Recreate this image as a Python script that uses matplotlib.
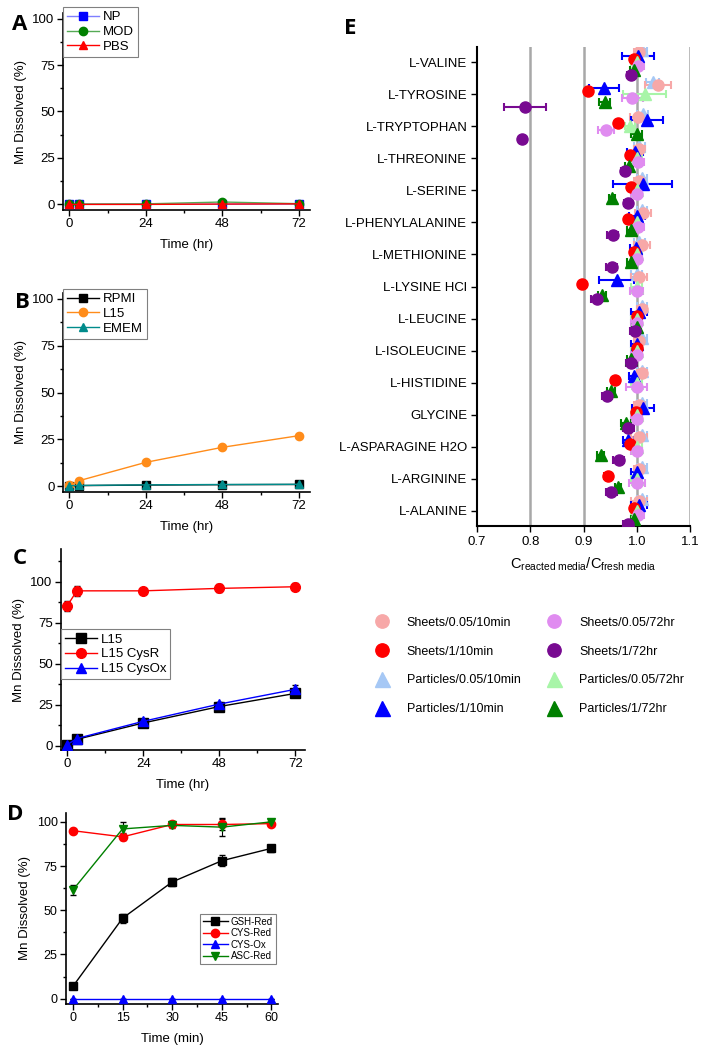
import matplotlib.pyplot as plt
import matplotlib.lines as mlines
from matplotlib.ticker import MultipleLocator
import numpy as np

plt.rcParams['font.family'] = ['Liberation Sans', 'DejaVu Sans']
plt.rcParams['mathtext.fontset'] = 'custom'
plt.rcParams['mathtext.rm'] = 'Liberation Sans'
plt.rcParams['mathtext.it'] = 'Liberation Sans:italic'

## ---- data : panel A ----
time_hr = [0, 3, 24, 48, 72]
a_np = [0.1, 0.1, 0.2, 0.1, 0.2]
a_mod = [0.2, 0.2, 0.3, 1.3, 0.4]
a_pbs = [0.0, 0.0, 0.0, 0.2, 0.3]
a_err = [0.3, 0.3, 0.3, 0.5, 0.3]

## ---- data : panel B ----
b_rpmi = [0.2, 0.4, 0.7, 0.9, 1.0]
b_l15 = [0.5, 3.0, 12.8, 20.8, 27.0]
b_emem = [0.3, 0.5, 0.8, 1.0, 1.1]
b_err = [0.3, 0.5, 0.8, 0.8, 1.0]

## ---- data : panel C ----
c_l15 = [0.5, 4.0, 14.0, 24.0, 32.0]
c_cysr = [85.5, 94.5, 94.5, 96.0, 97.0]
c_cysox = [0.8, 4.5, 15.0, 25.5, 34.5]
c_err_l15 = [1.0, 1.5, 1.5, 2.0, 2.0]
c_err_cysr = [3.0, 3.0, 2.0, 2.5, 2.0]
c_err_cysox = [1.0, 1.5, 1.5, 1.5, 2.5]

## ---- data : panel D ----
time_min = [0, 15, 30, 45, 60]
d_gsh = [7.0, 45.5, 66.0, 78.0, 85.0]
d_cys_red = [95.0, 91.5, 98.5, 98.5, 99.0]
d_cys_ox = [0.0, 0.0, 0.0, 0.0, 0.0]
d_asc = [61.5, 96.0, 98.0, 97.0, 100.0]
d_err_gsh = [1.0, 2.5, 2.5, 3.0, 2.0]
d_err_cys_red = [1.0, 2.0, 2.0, 3.0, 1.0]
d_err_asc = [3.0, 4.0, 1.0, 5.0, 1.0]

## ---- data : panel E (top -> bottom) ----
amino_acids = ['L-VALINE', 'L-TYROSINE', 'L-TRYPTOPHAN', 'L-THREONINE', 'L-SERINE',
               'L-PHENYLALANINE', 'L-METHIONINE', 'L-LYSINE HCl', 'L-LEUCINE',
               'L-ISOLEUCINE', 'L-HISTIDINE', 'GLYCINE', 'L-ASPARAGINE H2O',
               'L-ARGININE', 'L-ALANINE']
sheets_005_10 = [1.005, 1.040, 1.002, 1.005, 1.005, 1.012, 1.010, 1.005, 1.010, 1.005, 1.010, 1.005, 1.005, 1.005, 1.005]
sheets_005_10_err = [0.010, 0.025, 0.015, 0.010, 0.010, 0.015, 0.015, 0.015, 0.010, 0.010, 0.010, 0.010, 0.015, 0.010, 0.015]
sheets_1_10 = [0.995, 0.908, 0.965, 0.987, 0.990, 0.984, 0.995, 0.897, 1.000, 1.000, 0.959, 0.998, 0.987, 0.946, 0.995]
sheets_1_10_err = [0.005, 0.004, 0.004, 0.005, 0.005, 0.005, 0.005, 0.003, 0.005, 0.005, 0.005, 0.005, 0.005, 0.008, 0.005]
particles_005_10 = [1.010, 1.030, 1.011, 1.005, 1.010, 1.010, 1.005, 1.000, 1.010, 1.010, 1.010, 1.010, 1.010, 1.010, 1.010]
particles_005_10_err = [0.010, 0.012, 0.010, 0.010, 0.010, 0.010, 0.010, 0.010, 0.010, 0.010, 0.010, 0.010, 0.010, 0.010, 0.010]
particles_1_10 = [1.002, 0.938, 1.019, 0.997, 1.011, 1.000, 0.998, 0.962, 1.005, 1.000, 0.995, 1.012, 0.984, 1.000, 1.005]
particles_1_10_err = [0.030, 0.028, 0.030, 0.015, 0.055, 0.015, 0.010, 0.033, 0.015, 0.010, 0.010, 0.020, 0.010, 0.010, 0.015]
sheets_005_72 = [1.003, 0.992, 0.942, 1.003, 1.000, 1.003, 1.000, 1.000, 1.000, 1.000, 1.000, 1.000, 1.000, 1.000, 1.003]
sheets_005_72_err = [0.010, 0.020, 0.015, 0.010, 0.010, 0.010, 0.010, 0.012, 0.010, 0.010, 0.020, 0.010, 0.010, 0.015, 0.010]
sheets_1_72 = [0.990, 0.790, 0.785, 0.978, 0.984, 0.955, 0.953, 0.925, 0.997, 0.990, 0.944, 0.984, 0.966, 0.952, 0.984]
sheets_1_72_err = [0.008, 0.040, 0.007, 0.008, 0.008, 0.010, 0.010, 0.010, 0.010, 0.010, 0.010, 0.010, 0.010, 0.010, 0.010]
particles_005_72 = [1.000, 1.015, 0.987, 1.000, 1.000, 1.000, 1.000, 1.000, 1.000, 1.000, 1.000, 1.000, 1.000, 1.000, 1.000]
particles_005_72_err = [0.010, 0.040, 0.010, 0.010, 0.010, 0.010, 0.010, 0.010, 0.010, 0.010, 0.010, 0.010, 0.010, 0.010, 0.010]
particles_1_72 = [0.995, 0.940, 1.000, 0.985, 0.953, 0.990, 0.990, 0.935, 1.000, 0.990, 0.952, 0.980, 0.932, 0.965, 0.995]
particles_1_72_err = [0.008, 0.010, 0.010, 0.008, 0.006, 0.008, 0.008, 0.008, 0.008, 0.008, 0.008, 0.010, 0.006, 0.006, 0.006]

W, H = 703, 1050
fig = plt.figure(figsize=(W / 100, H / 100), dpi=100)


def add_ax(x0, y0, x1, y1):
    # pixel box -> figure fraction
    return fig.add_axes([x0 / W, 1 - y1 / H, (x1 - x0) / W, (y1 - y0) / H])


def style_mn(ax, xticks, xlim, ylim, xminor, xlabel, ts=9.5):
    for s in ['top', 'right']:
        ax.spines[s].set_visible(False)
    for s in ['left', 'bottom']:
        ax.spines[s].set_linewidth(1.2)
    ax.set_xlim(xlim)
    ax.set_ylim(ylim)
    ax.set_xticks(xticks)
    ax.set_yticks([0, 25, 50, 75, 100])
    ax.xaxis.set_minor_locator(MultipleLocator(xminor))
    ax.yaxis.set_minor_locator(MultipleLocator(12.5))
    ax.tick_params(direction='out', length=4, width=1, labelsize=ts, pad=2)
    ax.tick_params(which='minor', length=2, width=1)
    ax.set_xlabel(xlabel, fontsize=9.5, labelpad=6)
    ax.set_ylabel('Mn Dissolved (%)', fontsize=9.5, labelpad=4)


def serie(ax, x, y, err, marker, mcol, lcol, label, ms=6):
    ax.errorbar(x, y, yerr=err, fmt='none', ecolor='black', elinewidth=0.8, capsize=2, zorder=2)
    ax.plot(x, y, marker=marker, color=lcol, markerfacecolor=mcol, markeredgecolor=mcol,
            ms=ms, lw=1, label=label, zorder=3)


def leg(ax, **kw):
    l = ax.legend(fontsize=9.5, handlelength=2.4, handletextpad=0.3, labelspacing=0.2,
                  borderpad=0.3, fancybox=False, edgecolor='#808080', framealpha=1, **kw)
    l.get_frame().set_linewidth(0.8)
    return l


## ---- A ----
axA = add_ax(63, 13, 310, 210)
serie(axA, time_hr, a_np, a_err, 's', '#0000ff', '#7f7fff', 'NP')
serie(axA, time_hr, a_mod, a_err, 'o', '#008000', '#55aa55', 'MOD')
serie(axA, time_hr, a_pbs, a_err, '^', '#ff0000', '#ff0000', 'PBS')
style_mn(axA, [0, 24, 48, 72], (-2, 75.5), (-3, 103), 12, 'Time (hr)')
leg(axA, loc='upper left', bbox_to_anchor=(0, 1.03), borderaxespad=0)

## ---- B ----
axB = add_ax(63, 293, 310, 492)
serie(axB, time_hr, b_rpmi, b_err, 's', '#000000', '#000000', 'RPMI')
serie(axB, time_hr, b_l15, b_err, 'o', '#ff8c1a', '#ff8c1a', 'L15')
serie(axB, time_hr, b_emem, b_err, '^', '#008b8b', '#008b8b', 'EMEM')
style_mn(axB, [0, 24, 48, 72], (-2, 75.5), (-3, 103), 12, 'Time (hr)')
leg(axB, loc='upper left', bbox_to_anchor=(0, 1.02), borderaxespad=0)

## ---- C ----
axC = add_ax(61, 549, 305, 750)
serie(axC, time_hr, c_l15, c_err_l15, 's', '#000000', '#000000', 'L15', ms=6.5)
serie(axC, time_hr, c_cysr, c_err_cysr, 'o', '#ff0000', '#ff0000', 'L15 CysR', ms=7)
serie(axC, time_hr, c_cysox, c_err_cysox, '^', '#0000ff', '#0000ff', 'L15 CysOx', ms=7)
style_mn(axC, [0, 24, 48, 72], (-2, 75), (-2.5, 120), 12, 'Time (hr)')
leg(axC, loc='upper left', bbox_to_anchor=(0, 0.6), borderaxespad=0)

## ---- D ----
axD = add_ax(66, 813, 278, 1004)
serie(axD, time_min, d_gsh, d_err_gsh, 's', '#000000', '#000000', 'GSH-Red')
serie(axD, time_min, d_cys_red, d_err_cys_red, 'o', '#ff0000', '#ff0000', 'CYS-Red')
serie(axD, time_min, d_cys_ox, [0] * 5, '^', '#0000ff', '#0000ff', 'CYS-Ox')
serie(axD, time_min, d_asc, d_err_asc, 'v', '#008000', '#008000', 'ASC-Red')
style_mn(axD, [0, 15, 30, 45, 60], (-2.1, 62), (-3, 105), 7.5, 'Time (min)', ts=9)
lD = axD.legend(fontsize=7, handlelength=2.6, handletextpad=0.3, labelspacing=0.15, borderpad=0.3,
                fancybox=False, edgecolor='#808080', framealpha=1,
                loc='lower right', bbox_to_anchor=(0.99, 0.21), borderaxespad=0)
lD.get_frame().set_linewidth(0.8)

## ---- E ----
axE = add_ax(477, 47, 690, 526)
n = len(amino_acids)
ypos = np.arange(n)[::-1]

series_e = [
    (particles_005_10, particles_005_10_err, '^', '#a6c8f5', 0.38, 'Particles/0.05/10min'),
    (sheets_005_10, sheets_005_10_err, 'o', '#f7a8a8', 0.30, 'Sheets/0.05/10min'),
    (particles_1_10, particles_1_10_err, '^', '#0000ff', 0.20, 'Particles/1/10min'),
    (sheets_1_10, sheets_1_10_err, 'o', '#ff0000', 0.09, 'Sheets/1/10min'),
    (particles_005_72, particles_005_72_err, '^', '#a8f5a8', 0.0, 'Particles/0.05/72hr'),
    (sheets_005_72, sheets_005_72_err, 'o', '#e08cf0', -0.13, 'Sheets/0.05/72hr'),
    (particles_1_72, particles_1_72_err, '^', '#008000', -0.25, 'Particles/1/72hr'),
    (sheets_1_72, sheets_1_72_err, 'o', '#780a91', -0.40, 'Sheets/1/72hr'),
]
handles = {}
for vals, errs, mk, col, off, lab in series_e:
    ms = 8 if mk == 'o' else 9
    axE.errorbar(vals, ypos + off, xerr=errs, fmt=mk, color=col, ecolor=col, ms=ms,
                 elinewidth=1.5, capsize=3, capthick=1.5, zorder=3)
    handles[lab] = mlines.Line2D([], [], linestyle='none', marker=mk, color=col, ms=ms)

for gx in [0.8, 0.9, 1.0, 1.1]:
    axE.axvline(gx, color='#a8a8a8', lw=1.8, zorder=0)

axE.set_xlim(0.7, 1.1)
axE.set_ylim(-0.47, n - 1 + 0.47)
axE.set_yticks(ypos)
axE.set_yticklabels(amino_acids, fontsize=9.5)
axE.set_xticks([0.7, 0.8, 0.9, 1.0, 1.1])
axE.set_xticklabels(['0.7', '0.8', '0.9', '1.0', '1.1'], fontsize=9.5)
for s in ['top', 'right']:
    axE.spines[s].set_visible(False)
for s in ['left', 'bottom']:
    axE.spines[s].set_linewidth(1.5)
axE.tick_params(direction='out', length=4, width=1, pad=3)
axE.set_xlabel(r'C$_{\rm reacted\ media}$/C$_{\rm fresh\ media}$', fontsize=10.5, labelpad=6)

order = ['Sheets/0.05/10min', 'Sheets/1/10min', 'Particles/0.05/10min', 'Particles/1/10min',
         'Sheets/0.05/72hr', 'Sheets/1/72hr', 'Particles/0.05/72hr', 'Particles/1/72hr']
fig.legend([handles[k] for k in order], order, ncol=2, loc='center',
           bbox_to_anchor=(530 / W, 1 - 666 / H), frameon=False, fontsize=9,
           markerscale=1.2, handlelength=1.0, handletextpad=1.5, labelspacing=1.35,
           columnspacing=2.2)

## ---- panel letters ----
for lettre, x, y in [('A', 20, 25), ('B', 22, 302), ('C', 20, 558), ('D', 15, 815), ('E', 350, 28)]:
    fig.text(x / W, 1 - y / H, lettre, fontsize=16, fontweight='bold', family='Open Sans',
             ha='center', va='center')

fig.savefig('out.png', dpi=100)
